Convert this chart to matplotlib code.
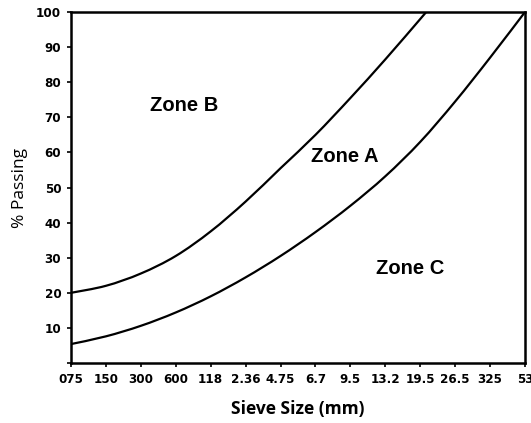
import matplotlib
matplotlib.use("Agg")
import matplotlib.pyplot as plt
from matplotlib.path import Path
from matplotlib.patches import PathPatch

sieve_labels = ["075", "150", "300", "600", "118", "2.36", "4.75", "6.7",
                "9.5", "13.2", "19.5", "26.5", "325", "53"]
sieve_pos = list(range(len(sieve_labels)))

lower_x = [0, 1, 2, 3, 4, 5, 6, 7, 8, 9, 10, 11, 12, 13]
lower_y = [5.4, 7.6, 10.6, 14.4, 19, 24.4, 30.5, 37.3, 44.8, 53.2, 63, 74.5, 87, 100]

upper_x = [0, 1, 2, 3, 4, 5, 6, 7, 8, 9, 10, 10.17]
upper_y = [20, 22, 25.5, 30.5, 37.5, 46, 55.5, 65, 75.5, 86.5, 98, 100]

zones = ["Zone B", "Zone A", "Zone C"]
zone_x = [3.23, 7.83, 9.71]
zone_y = [73.4, 58.9, 26.9]

y_ticks = [0, 10, 20, 30, 40, 50, 60, 70, 80, 90, 100]
y_tick_labels = ["", "10", "20", "30", "40", "50", "60", "70", "80", "90", "100"]


def smooth_path(xs, ys):
    """Catmull-Rom curve through the read points, as cubic Bezier segments."""
    pts = list(zip(xs, ys))
    verts = [pts[0]]
    codes = [Path.MOVETO]
    n = len(pts)
    for i in range(n - 1):
        p0 = pts[i - 1] if i > 0 else pts[i]
        p1 = pts[i]
        p2 = pts[i + 1]
        p3 = pts[i + 2] if i + 2 < n else pts[i + 1]
        c1 = (p1[0] + (p2[0] - p0[0]) / 6.0, p1[1] + (p2[1] - p0[1]) / 6.0)
        c2 = (p2[0] - (p3[0] - p1[0]) / 6.0, p2[1] - (p3[1] - p1[1]) / 6.0)
        verts += [c1, c2, p2]
        codes += [Path.CURVE4] * 3
    return Path(verts, codes)


fig = plt.figure(figsize=(5.31, 4.23), dpi=100)
ax = fig.add_axes([0.1337, 0.1418, 0.855, 0.8298])

for xs, ys in [(lower_x, lower_y), (upper_x, upper_y)]:
    ax.add_patch(PathPatch(smooth_path(xs, ys), facecolor="none",
                           edgecolor="black", lw=1.6, capstyle="round"))

ax.set_xlim(0, 13)
ax.set_ylim(0, 100)

tickfont = dict(family=["DejaVu Sans"], weight="bold", stretch="condensed", size=9.5)
ax.set_xticks(sieve_pos)
ax.set_xticklabels(sieve_labels, **tickfont)
ax.set_yticks(y_ticks)
ax.set_yticklabels(y_tick_labels, **tickfont)
ax.tick_params(direction="out", length=3, width=1.2, pad=4, colors="black")

for s in ax.spines.values():
    s.set_linewidth(1.8)
    s.set_color("black")

for t, x, y in zip(zones, zone_x, zone_y):
    ax.text(x, y, t, ha="center", va="center", fontsize=14.5, fontweight="bold",
            family=["Liberation Sans", "DejaVu Sans"])

ax.set_xlabel("Sieve Size (mm)", fontsize=12.5, fontweight="bold",
              family=["Open Sans", "DejaVu Sans"], labelpad=10)
ax.set_ylabel("% Passing", fontsize=12.5, family=["Open Sans", "DejaVu Sans"], labelpad=6)

fig.savefig("out.png", dpi=100)
